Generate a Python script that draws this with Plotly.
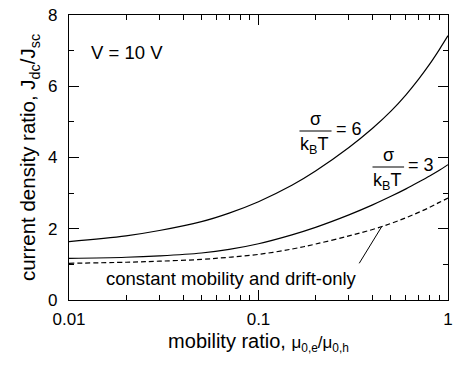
import plotly.graph_objects as go

# mobility ratio mu_0e / mu_0h
mobility_ratio = [0.01, 0.02, 0.03, 0.05, 0.07, 0.1, 0.15, 0.2, 0.3, 0.4, 0.5, 0.6, 0.7, 0.8, 0.9, 1.0]
# current density ratio J_dc/J_sc
ratio_sigma6 = [1.64, 1.80, 1.95, 2.20, 2.44, 2.76, 3.22, 3.62, 4.28, 4.82, 5.30, 5.76, 6.20, 6.62, 7.03, 7.42]
ratio_sigma3 = [1.17, 1.20, 1.24, 1.32, 1.42, 1.58, 1.83, 2.04, 2.39, 2.67, 2.91, 3.12, 3.31, 3.48, 3.64, 3.80]
ratio_const = [1.03, 1.06, 1.09, 1.14, 1.20, 1.28, 1.43, 1.57, 1.80, 1.98, 2.15, 2.31, 2.46, 2.60, 2.74, 2.86]

x_ticks = [0.01, 0.1, 1]
x_tick_labels = ["0.01", "0.1", "1"]
x_minor = [0.02, 0.03, 0.04, 0.05, 0.06, 0.07, 0.08, 0.09,
           0.2, 0.3, 0.4, 0.5, 0.6, 0.7, 0.8, 0.9]
y_ticks = [0, 2, 4, 6, 8]
y_minor = [1, 3, 5, 7]

# leader line for the constant-mobility label (data coordinates)
leader_x = [0.34, 0.447]
leader_y = [1.03, 2.06]

FONT = "Liberation Sans, Arial, sans-serif"
W, H = 455, 365
L, R, T, B = 69, 2, 15, 65
PW, PH = W - L - R, H - T - B

def px(xp):
    return (xp - L) / PW

def py(yp):
    return (H - B - yp) / PH

fig = go.Figure()
lw = 1.2
fig.add_trace(go.Scatter(x=mobility_ratio, y=ratio_sigma6, mode="lines",
                         line=dict(color="black", width=lw, shape="spline"), showlegend=False))
fig.add_trace(go.Scatter(x=mobility_ratio, y=ratio_sigma3, mode="lines",
                         line=dict(color="black", width=lw, shape="spline"), showlegend=False))
fig.add_trace(go.Scatter(x=mobility_ratio, y=ratio_const, mode="lines",
                         line=dict(color="black", width=lw, dash="5px,3px", shape="spline"), showlegend=False))
fig.add_trace(go.Scatter(x=leader_x, y=leader_y, mode="lines",
                         line=dict(color="black", width=1), showlegend=False))

ann = []
def text(s, xp, yp, size=18.5, xanchor="center"):
    ann.append(dict(text=s, x=px(xp), y=py(yp), xref="paper", yref="paper",
                    showarrow=False, xanchor=xanchor, yanchor="middle",
                    font=dict(family=FONT, size=size, color="black")))

text("V = 10 V", 127.5, 53)
text("constant mobility and drift-only", 234, 278)
# sigma/kBT = 6
text("σ", 318.5, 119, size=18)
text("k<sub>B</sub>T", 317.5, 145, size=18)
text("= 6", 352.5, 128.5, size=18)
# sigma/kBT = 3
text("σ", 392.5, 155, size=18)
text("k<sub>B</sub>T", 391.7, 181, size=18)
text("= 3", 425.8, 164.5, size=18)

shapes = [
    dict(type="line", xref="paper", yref="paper", x0=px(302.5), x1=px(335), y0=py(131), y1=py(131),
         line=dict(color="black", width=1.2)),
    dict(type="line", xref="paper", yref="paper", x0=px(376.5), x1=px(408.5), y0=py(167), y1=py(167),
         line=dict(color="black", width=1.2)),
]

fig.update_layout(
    width=W, height=H,
    margin=dict(l=L, r=R, t=T, b=B),
    paper_bgcolor="white", plot_bgcolor="white",
    font=dict(family=FONT, size=17, color="black"),
    annotations=ann, shapes=shapes,
)
fig.update_xaxes(
    type="log", range=[-2, 0],
    tickmode="array", tickvals=x_ticks, ticktext=x_tick_labels,
    ticks="inside", ticklen=10, tickwidth=1.2, tickcolor="black",
    minor=dict(tickmode="array", tickvals=x_minor, ticks="inside", ticklen=4.5,
               tickwidth=1, tickcolor="black", showgrid=False),
    showline=True, linecolor="black", linewidth=1.3, mirror="ticks",
    showgrid=False, zeroline=False, ticklabeloverflow="allow",
    ticklabelstandoff=3,
    tickfont=dict(size=17),
    title=dict(text="mobility ratio, <span style='font-size:17px'>μ<sub>0,e</sub>/μ<sub>0,h</sub></span>",
               font=dict(size=20), standoff=6),
)
fig.update_yaxes(
    range=[0, 8],
    tickmode="array", tickvals=y_ticks,
    ticks="inside", ticklen=10, tickwidth=1.2, tickcolor="black",
    minor=dict(tickmode="array", tickvals=y_minor, ticks="inside", ticklen=4.5,
               tickwidth=1, tickcolor="black", showgrid=False),
    showline=True, linecolor="black", linewidth=1.3, mirror="ticks",
    showgrid=False, zeroline=False, ticklabeloverflow="allow",
    ticklabelstandoff=7,
    tickfont=dict(size=17),
    title=dict(text="current density ratio, J<sub>dc</sub>/J<sub>sc</sub>",
               font=dict(size=20.5), standoff=6),
)

fig.write_html("out.html")
